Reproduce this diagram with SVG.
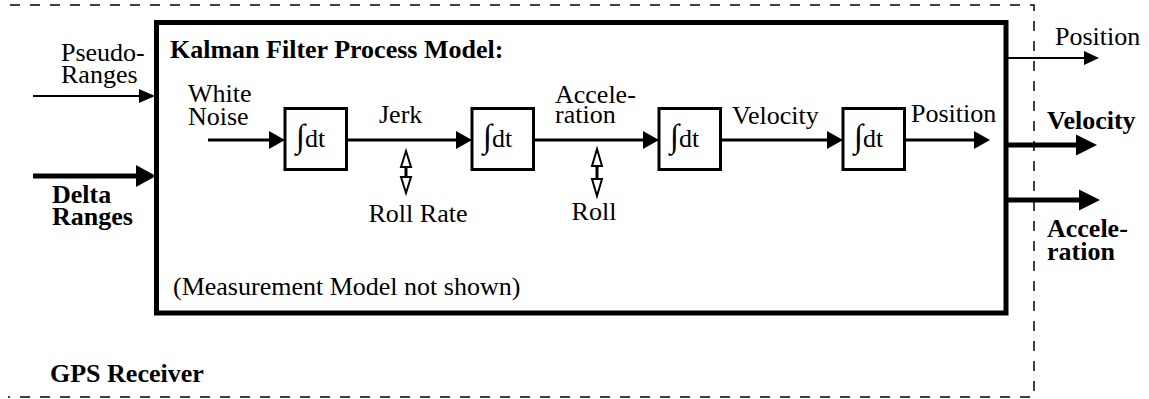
<svg xmlns="http://www.w3.org/2000/svg" width="1149" height="399" viewBox="0 0 1149 399">
  <style>
    text { font-family: "Liberation Serif", "Times New Roman", serif; font-size: 26px; fill: #000; }
    .b { font-weight: bold; }
    .mid { text-anchor: middle; }
    .intg { font-size: 33px; }
    .frame { fill: none; stroke: #000; stroke-width: 1.5; stroke-dasharray: 10 10; }
    .kf { fill: #fff; stroke: #000; stroke-width: 5; }
    .blk { fill: #fff; stroke: #000; stroke-width: 3; }
    .thin { stroke: #000; stroke-width: 2; fill: none; }
    .mainln { stroke: #000; stroke-width: 3; fill: none; }
    .thick { stroke: #000; stroke-width: 5; fill: none; }
    .head { fill: #000; stroke: none; }
    .hollow { fill: #fff; stroke: #000; stroke-width: 2; stroke-linejoin: miter; }
  </style>

  <!-- GPS receiver boundary (open on the left) -->
  <g id="gps-receiver">
    <path class="frame" d="M10,5 H1034 V397 H8"/>
    <text class="b" x="50" y="382">GPS Receiver</text>
  </g>

  <!-- Kalman filter process model -->
  <g id="kalman-filter">
    <rect class="kf" x="156.5" y="22.5" width="849.5" height="290.5"/>
    <text class="b" x="170" y="58">Kalman Filter Process Model:</text>
    <text x="173" y="295">(Measurement Model not shown)</text>
  </g>

  <!-- integrator blocks -->
  <g id="integrator-1">
    <rect class="blk" x="285" y="108.5" width="61.5" height="61"/>
    <text x="296" y="147"><tspan class="intg">∫</tspan>dt</text>
  </g>
  <g id="integrator-2">
    <rect class="blk" x="472" y="108.5" width="61.5" height="61"/>
    <text x="483" y="147"><tspan class="intg">∫</tspan>dt</text>
  </g>
  <g id="integrator-3">
    <rect class="blk" x="659" y="108.5" width="61.5" height="61"/>
    <text x="670" y="147"><tspan class="intg">∫</tspan>dt</text>
  </g>
  <g id="integrator-4">
    <rect class="blk" x="843" y="108.5" width="61.5" height="61"/>
    <text x="854" y="147"><tspan class="intg">∫</tspan>dt</text>
  </g>

  <!-- signal labels -->
  <g id="labels">
    <text x="188" y="102">White</text>
    <text x="188" y="125">Noise</text>
    <text x="379" y="122.5">Jerk</text>
    <text x="555" y="103">Accele-</text>
    <text x="555" y="123">ration</text>
    <text x="732" y="124">Velocity</text>
    <text x="911" y="122">Position</text>
    <text class="mid" x="418" y="222">Roll Rate</text>
    <text class="mid" x="594" y="220">Roll</text>
  </g>

  <!-- inputs -->
  <g id="inputs">
    <text x="61" y="61">Pseudo-</text>
    <text x="61" y="83">Ranges</text>
    <text class="b" x="52" y="203">Delta</text>
    <text class="b" x="52" y="225">Ranges</text>
  </g>

  <!-- outputs -->
  <g id="outputs">
    <text x="1055" y="45">Position</text>
    <text class="b" x="1047" y="129">Velocity</text>
    <text class="b" x="1047" y="237">Accele-</text>
    <text class="b" x="1047" y="260">ration</text>
  </g>

  <g id="connectors">
    <!-- Pseudo-ranges in -->
    <line class="thin" x1="33" y1="96" x2="141" y2="96"/>
    <path class="head" d="M155,96 L139,89 L139,103 Z"/>
    <!-- Delta ranges in -->
    <line class="thick" x1="33" y1="176" x2="138" y2="176"/>
    <path class="head" d="M156,176 L136,165 L136,187 Z"/>

    <!-- process chain -->
    <line class="mainln" x1="208" y1="140" x2="272" y2="140"/>
    <path class="head" d="M285,140 L269,131 L269,149 Z"/>
    <line class="mainln" x1="346" y1="140" x2="459" y2="140"/>
    <path class="head" d="M472,140 L456,131 L456,149 Z"/>
    <line class="mainln" x1="533" y1="140" x2="646" y2="140"/>
    <path class="head" d="M659,140 L643,131 L643,149 Z"/>
    <line class="mainln" x1="720" y1="140" x2="830" y2="140"/>
    <path class="head" d="M843,140 L827,131 L827,149 Z"/>
    <line class="mainln" x1="904" y1="140" x2="977" y2="140"/>
    <path class="head" d="M990,140 L974,131 L974,149 Z"/>

    <!-- roll rate coupling -->
    <line class="mainln" x1="406" y1="166" x2="406" y2="178"/>
    <path class="hollow" d="M406,151 L401,167 L411,167 Z"/>
    <path class="hollow" d="M401,177 L411,177 L406,193 Z"/>
    <!-- roll coupling -->
    <line class="mainln" x1="597" y1="165" x2="597" y2="180"/>
    <path class="hollow" d="M597,149 L592,166 L602,166 Z"/>
    <path class="hollow" d="M592,179 L602,179 L597,196 Z"/>

    <!-- outputs -->
    <line class="thin" x1="1006" y1="58" x2="1086" y2="58"/>
    <path class="head" d="M1099,58 L1084,51 L1084,65 Z"/>
    <line class="thick" x1="1006" y1="145" x2="1078" y2="145"/>
    <path class="head" d="M1097,145 L1076,134.5 L1076,155.5 Z"/>
    <line class="thick" x1="1006" y1="200" x2="1081" y2="200"/>
    <path class="head" d="M1100,200 L1079,189.5 L1079,210.5 Z"/>
  </g>
</svg>
